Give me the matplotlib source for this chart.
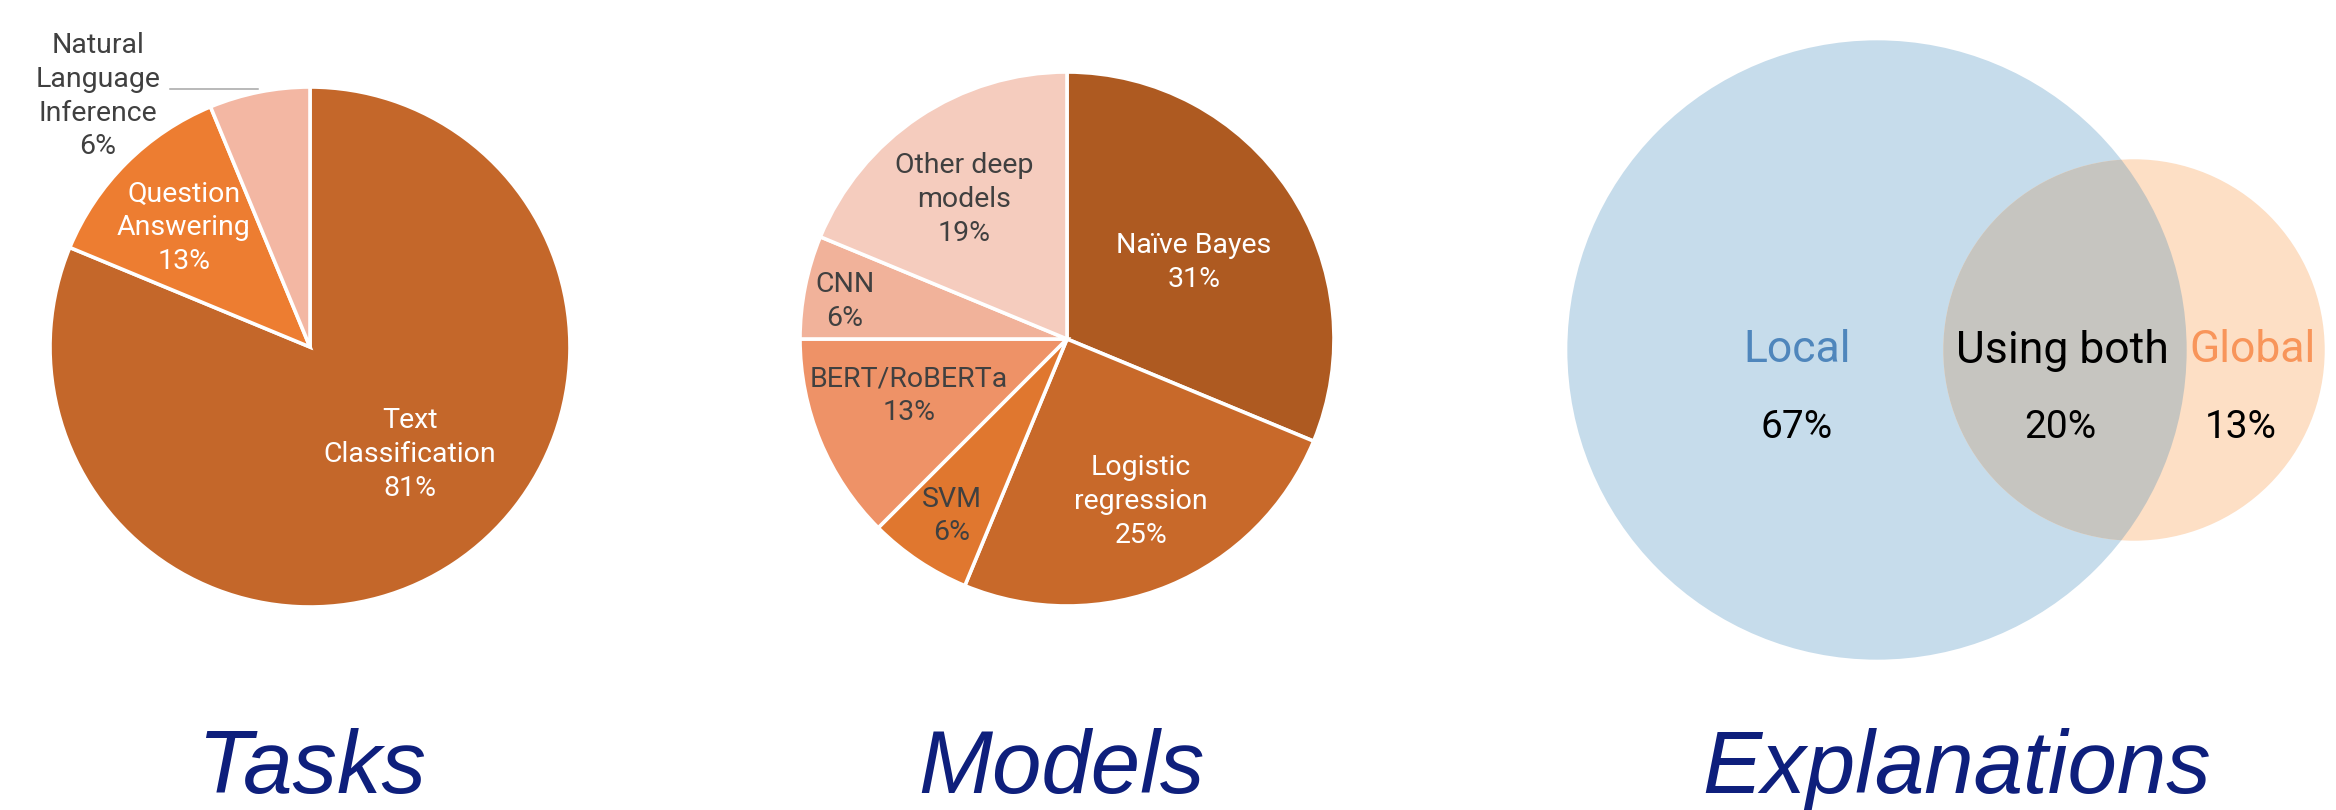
import matplotlib
matplotlib.use("Agg")
import matplotlib.pyplot as plt
from matplotlib.patches import Ellipse
import numpy as np

# ---------------- data ----------------
task_names = ["Text\nClassification", "Question\nAnswering", "Natural\nLanguage\nInference"]
task_counts = [13, 2, 1]
task_colors = ["#C4672A", "#ED7D31", "#F3B7A3"]
task_text_colors = ["white", "white", "#404040"]

model_names = ["Naïve Bayes", "Logistic\nregression", "SVM", "BERT/RoBERTa", "CNN", "Other deep\nmodels"]
model_counts = [5, 4, 1, 2, 1, 3]
model_colors = ["#AE5A21", "#C8692A", "#E0772F", "#EE9267", "#F1B29A", "#F5CCBE"]
model_text_colors = ["white", "white", "#404040", "#404040", "#404040", "#404040"]

venn_names = ["Local", "Using both", "Global"]
venn_pct = [67, 20, 13]
venn_name_colors = ["#4F86BC", "black", "#F8955A"]

titles = ["Tasks", "Models", "Explanations"]

# ---------------- layout ----------------
W, H = 2336, 810
fig = plt.figure(figsize=(W / 100, H / 100), dpi=100)
ax = fig.add_axes([0, 0, 1, 1])

LABEL_FONT = ["Roboto", "DejaVu Sans"]
VENN_FONT = ["Liberation Sans Narrow", "Roboto", "DejaVu Sans"]
TITLE_FONT = ["Liberation Sans", "DejaVu Sans"]


def pct_strings(counts):
    tot = sum(counts)
    return [f"{int(100 * c / tot + 0.5)}%" for c in counts]


def draw_pie(counts, names, colors, text_colors, center, radius, offsets):
    wedges, _ = ax.pie(counts, colors=colors, startangle=90, counterclock=False,
                       center=center, radius=radius,
                       wedgeprops=dict(edgecolor="white", linewidth=2.6))
    for name, pct, tc, (ox, oy) in zip(names, pct_strings(counts), text_colors, offsets):
        ax.text(center[0] + ox * radius, center[1] + oy * radius, f"{name}\n{pct}",
                ha="center", va="center", multialignment="center",
                color=tc, fontsize=20.5, family=LABEL_FONT, linespacing=1.33)
    return wedges


# Tasks pie
c1, r1 = (310, H - 347), 260
draw_pie(task_counts, task_names, task_colors, task_text_colors, c1, r1,
         [(0.385, -0.415), (-0.485, 0.458), (-0.815, 0.965)])
# leader line for the outside label
ax.plot([170, 258], [H - 89, H - 89], color="#A6A6A6", lw=1.1)

# Models pie
c2, r2 = (1067, H - 339), 267
draw_pie(model_counts, model_names, model_colors, model_text_colors, c2, r2,
         [(0.476, 0.285), (0.277, -0.610), (-0.431, -0.663),
          (-0.592, -0.213), (-0.831, 0.142), (-0.386, 0.521)])

# Venn diagram (areas proportional to set sizes)
k = 33.2
r_local = k * np.sqrt(venn_pct[0] + venn_pct[1])
r_global = k * np.sqrt(venn_pct[1] + venn_pct[2])
vc_local = (1877, H - 350)
vc_global = (2134, H - 350)
blue = Ellipse(vc_local, 2 * r_local, 2 * r_local, facecolor="#C6DCEB", edgecolor="none", zorder=1)
orange = Ellipse(vc_global, 2 * r_global, 2 * r_global, facecolor="#FDDFC5", edgecolor="none", zorder=1)
ax.add_patch(blue)
ax.add_patch(orange)
overlap = Ellipse(vc_global, 2 * r_global, 2 * r_global, facecolor="#C6C5C0", edgecolor="none", zorder=2)
ax.add_patch(overlap)
overlap.set_clip_path(blue)

name_x = [1797, 2062, 2253]
pct_x = [1797, 2060, 2241]
for nm, p, col, nx, px in zip(venn_names, venn_pct, venn_name_colors, name_x, pct_x):
    ax.text(nx, H - 350, nm, ha="center", va="center", color=col,
            fontsize=32, family=VENN_FONT, zorder=3)
    ax.text(px, H - 428, f"{p}%", ha="center", va="center", color="black",
            fontsize=28, family=VENN_FONT, zorder=3)

# Titles
for t, x in zip(titles, [312, 1061, 1957]):
    ax.text(x, H - 793, t, ha="center", va="baseline", color="#0E1F7C",
            fontsize=64, style="italic", family=TITLE_FONT)

ax.set_xlim(0, W)
ax.set_ylim(0, H)
ax.set_aspect("equal")
ax.axis("off")

fig.savefig("out.png", dpi=100, facecolor="white")
